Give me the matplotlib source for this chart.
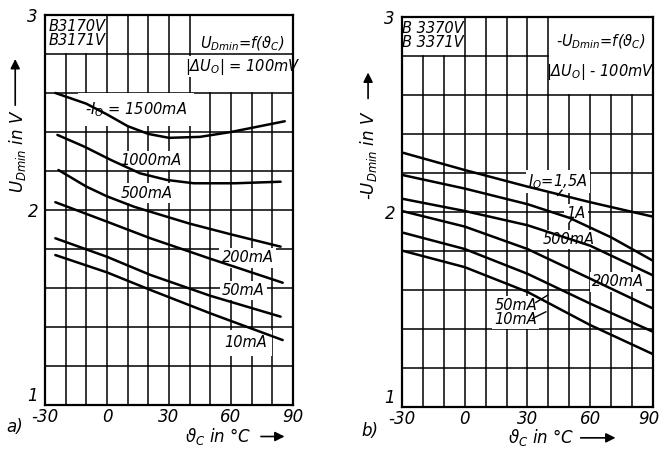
import numpy as np
import matplotlib
matplotlib.use("Agg")
import matplotlib.pyplot as plt
from matplotlib.transforms import ScaledTranslation

# ---- data (temperature in degC, voltage in V) ----
left_labels = ["-1500", "1000", "500", "200", "50", "10"]
left_t = [
    [-25, -10, 0, 10, 20, 30, 45, 60, 86],
    [-24, -11, 2, 16, 29, 42, 62, 84],
    [-23.5, -10, 0, 13, 21, 40, 60, 84],
    [-25, 0, 21, 50, 85],
    [-25, 0, 21, 50, 84],
    [-25, 0, 21, 50, 85],
]
left_u = [
    [2.60, 2.545, 2.49, 2.43, 2.39, 2.37, 2.375, 2.40, 2.455],
    [2.385, 2.325, 2.256, 2.188, 2.154, 2.137, 2.137, 2.145],
    [2.205, 2.12, 2.07, 2.017, 1.991, 1.93, 1.875, 1.812],
    [2.04, 1.94, 1.855, 1.75, 1.627],
    [1.855, 1.76, 1.667, 1.56, 1.453],
    [1.769, 1.68, 1.59, 1.47, 1.333],
]

right_t = [
    [-30, 0, 30, 60, 90],
    [-30, 0, 30, 50, 70, 90],
    [-30, 0, 30, 60, 90],
    [-30, 0, 30, 60, 90],
    [-30, 0, 30, 60, 90],
    [-30, 0, 30, 60, 90],
]
right_u = [
    [2.305, 2.215, 2.13, 2.05, 1.976],
    [2.19, 2.12, 2.04, 1.97, 1.87, 1.75],
    [2.068, 2.005, 1.932, 1.827, 1.675],
    [2.005, 1.925, 1.81, 1.658, 1.505],
    [1.895, 1.81, 1.683, 1.53, 1.386],
    [1.802, 1.717, 1.59, 1.42, 1.271],
]

x_ticks = [-30, 0, 30, 60, 90]
x_tick_labels = ["-30", "0", "30", "60", "90"]
y_ticks = [1, 2, 3]
y_tick_labels = ["1", "2", "3"]

plt.rcParams["font.family"] = ["Liberation Sans Narrow", "DejaVu Sans"]
plt.rcParams["font.style"] = "italic"
plt.rcParams["mathtext.fontset"] = "custom"
plt.rcParams["mathtext.rm"] = "Liberation Sans Narrow:italic"
plt.rcParams["mathtext.it"] = "Liberation Sans Narrow:italic"
plt.rcParams["mathtext.bf"] = "Liberation Sans Narrow:italic:bold"


def free_spans(lo, hi, cuts):
    # return pieces of [lo, hi] not covered by the cut intervals
    spans = [(lo, hi)]
    for a, b in cuts:
        new = []
        for s, e in spans:
            if b <= s or a >= e:
                new.append((s, e))
                continue
            if a > s:
                new.append((s, a))
            if b < e:
                new.append((b, e))
        spans = new
    return spans


def draw_grid(ax, vboxes, hboxes):
    for x in range(-20, 90, 10):
        cuts = [(y0, y1) for x0, x1, y0, y1 in vboxes if x0 < x < x1]
        for s, e in free_spans(1, 3, cuts):
            ax.plot([x, x], [s, e], color="black", lw=1.1, zorder=1)
    for y in np.arange(1.2, 2.9, 0.2):
        cuts = [(x0, x1) for x0, x1, y0, y1 in hboxes if y0 < y < y1]
        for s, e in free_spans(-30, 90, cuts):
            ax.plot([s, e], [y, y], color="black", lw=1.1, zorder=1)


def setup(ax, shift_last=0):
    ax.set_xlim(-30, 90)
    ax.set_ylim(1, 3)
    ax.set_xticks(x_ticks)
    ax.set_xticklabels(x_tick_labels)
    ax.set_yticks(y_ticks)
    ax.set_yticklabels(y_tick_labels)
    ax.tick_params(length=0, labelsize=12)
    ax.tick_params(axis="x", pad=2)
    ax.tick_params(axis="y", pad=5)
    ax.get_yticklabels()[0].set_va("bottom")
    if shift_last:
        lab = ax.get_xticklabels()[-1]
        lab.set_transform(lab.get_transform()
                          + ScaledTranslation(shift_last / 72, 0, fig.dpi_scale_trans))
    for sp in ax.spines.values():
        sp.set_linewidth(1.6)


def fig_arrow(ax, start, end):
    ax.annotate("", xy=end, xytext=start, xycoords="figure fraction",
                textcoords="figure fraction", annotation_clip=False,
                arrowprops=dict(arrowstyle="-|>", color="black", lw=1.2,
                                mutation_scale=14))


fig = plt.figure(figsize=(6.62, 4.5), dpi=100)
ax1 = fig.add_axes([0.068, 0.1, 0.3746, 0.8667])
ax2 = fig.add_axes([0.6073, 0.0956, 0.379, 0.8667])
box = dict(fc="white", ec="none", pad=1.5)

# ---- panel a) ----
setup(ax1)
draw_grid(ax1, [(-30, 0, 2.8, 3), (40, 90, 2.6, 3)], [(-30, 0, 2.8, 3)])
for t, u in zip(left_t, left_u):
    ax1.plot(t, u, color="black", lw=1.8, zorder=3, solid_capstyle="round")

ax1.text(14, 2.515, "-" + r"$I_O$ = 1500mA", fontsize=10.5, ha="center", va="center",
         bbox=dict(fc="white", ec="none", pad=5), zorder=2)
ax1.text(21, 2.256, "1000mA", fontsize=10.5, ha="center", va="center", bbox=box, zorder=2)
ax1.text(19, 2.087, "500mA", fontsize=10.5, ha="center", va="center", bbox=box, zorder=2)
ax1.text(68, 1.754, "200mA", fontsize=10.5, ha="center", va="center", bbox=box, zorder=2)
ax1.text(66, 1.585, "50mA", fontsize=10.5, ha="center", va="center", bbox=box, zorder=2)
ax1.text(67, 1.318, "10mA", fontsize=10.5, ha="center", va="center",
         bbox=dict(fc="white", ec="none", pad=4), zorder=2)
ax1.text(-14.5, 2.905, "B3170V\nB3171V", fontsize=10.5, ha="center", va="center",
         linespacing=0.9, zorder=2)
ax1.text(65.5, 2.85, r"$U_{Dmin}$=f($\vartheta_C$)", fontsize=10.5, ha="center",
         va="center", zorder=2)
ax1.text(65.5, 2.735, r"|$\Delta U_O$| = 100mV", fontsize=10.5, ha="center",
         va="center", zorder=2, bbox=dict(fc="white", ec="none", pad=0.5))

# ---- panel b) ----
setup(ax2, shift_last=-3)
draw_grid(ax2, [(-30, 0, 2.8, 3), (40, 90, 2.6, 3)],
          [(-30, 0, 2.8, 3), (40, 90, 2.6, 3)])
for t, u in zip(right_t, right_u):
    ax2.plot(t, u, color="black", lw=1.8, zorder=3, solid_capstyle="round")

ax2.text(44.6, 2.158, r"$I_O$=1,5A", fontsize=10.5, ha="center", va="center",
         bbox=box, zorder=2)
ax2.text(53.2, 1.993, "1A", fontsize=10.5, ha="center", va="center", bbox=box, zorder=2)
ax2.text(49.7, 1.861, "500mA", fontsize=10.5, ha="center", va="center", bbox=box, zorder=2)
ax2.text(73.2, 1.641, "200mA", fontsize=10.5, ha="center", va="center", bbox=box, zorder=2)
ax2.text(24.4, 1.522, "50mA", fontsize=10.5, ha="center", va="center", bbox=box, zorder=2)
ax2.text(24.4, 1.449, "10mA", fontsize=10.5, ha="center", va="center", bbox=box, zorder=2)
leaders = [((44.4, 2.085), (46.5, 2.112)), ((50, 1.946), (51.6, 1.966)),
           ((34, 1.536), (39.6, 1.573)), ((32.4, 1.454), (38.8, 1.488))]
for (a, b) in leaders:
    ax2.plot([a[0], b[0]], [a[1], b[1]], color="black", lw=1.0, zorder=4)
ax2.text(-15.2, 2.905, "B 3370V\nB 3371V", fontsize=10.5, ha="center", va="center",
         linespacing=0.9, zorder=2)
ax2.text(65, 2.873, "-" + r"$U_{Dmin}$=f($\vartheta_C$)", fontsize=10.5, ha="center",
         va="center", zorder=2)
ax2.text(65, 2.72, r"|$\Delta U_O$| - 100mV", fontsize=10.5, ha="center",
         va="center", zorder=2)

# ---- axis titles with arrows ----
fig.text(0.027, 0.665, r"$U_{Dmin}$ in V", rotation=90, fontsize=12,
         ha="center", va="center")
fig_arrow(ax1, (0.023, 0.76), (0.023, 0.875))
fig.text(0.557, 0.655, "-" + r"$U_{Dmin}$ in V", rotation=90, fontsize=12,
         ha="center", va="center")
fig_arrow(ax2, (0.556, 0.775), (0.556, 0.845))

fig.text(0.329, 0.03, r"$\vartheta_C$ in °C", fontsize=12, ha="center", va="center")
fig_arrow(ax1, (0.39, 0.03), (0.434, 0.03))
fig.text(0.817, 0.027, r"$\vartheta_C$ in °C", fontsize=12, ha="center", va="center")
fig_arrow(ax2, (0.873, 0.027), (0.934, 0.027))

fig.text(0.022, 0.05, "a)", fontsize=12, ha="center", va="center")
fig.text(0.559, 0.042, "b)", fontsize=12, ha="center", va="center")

fig.savefig("out.png", dpi=100, facecolor="white")
